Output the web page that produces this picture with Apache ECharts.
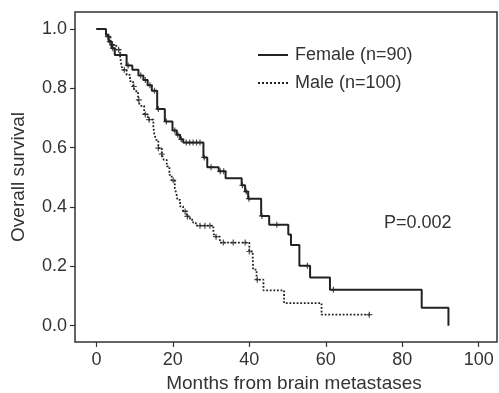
<!DOCTYPE html>
<html>
<head>
<meta charset="utf-8">
<script src="https://cdn.jsdelivr.net/npm/echarts@6/dist/echarts.min.js"></script>
<style>
html, body { margin: 0; padding: 0; background: #fff; }
#chart { width: 499px; height: 393px; }
</style>
</head>
<body>
<div id="chart"></div>
<script>
// tick labels
var xTicks = [0, 20, 40, 60, 80, 100];
var yTicks = [0, 0.2, 0.4, 0.6, 0.8, 1.0];

// Kaplan-Meier steps (time in months, survival after the drop)
var femaleTimes = [0, 2.5, 3.2, 4.0, 4.8, 7.9, 9.4, 11.0, 12.3, 13.4, 14.5, 15.9, 17.9, 19.9, 21.0, 21.9, 22.7, 28.0, 29.0, 32.0, 33.8, 38.0, 38.9, 39.7, 43.1, 45.2, 50.2, 50.9, 53.1, 55.9, 61.1, 85.1, 92.1];
var femaleSurv = [1.0, 0.98, 0.957, 0.935, 0.912, 0.877, 0.862, 0.843, 0.828, 0.81, 0.792, 0.73, 0.688, 0.658, 0.643, 0.628, 0.617, 0.567, 0.534, 0.52, 0.497, 0.473, 0.452, 0.428, 0.37, 0.34, 0.307, 0.272, 0.202, 0.162, 0.121, 0.06, 0.0];

var maleTimes = [0, 2.5, 3.7, 5.2, 6.2, 6.6, 7.0, 7.9, 8.8, 9.6, 10.1, 10.9, 11.4, 12.5, 13.5, 14.9, 15.1, 15.6, 16.2, 17.1, 17.6, 18.4, 19.1, 19.7, 20.5, 21.0, 21.2, 21.9, 22.7, 23.6, 24.5, 25.3, 26.0, 30.6, 31.0, 32.3, 40.0, 40.9, 41.0, 41.9, 43.7, 49.1, 58.9, 71.4];
var maleSurv = [1.0, 0.974, 0.946, 0.93, 0.907, 0.873, 0.862, 0.845, 0.824, 0.806, 0.79, 0.761, 0.741, 0.712, 0.694, 0.672, 0.649, 0.626, 0.598, 0.578, 0.559, 0.537, 0.508, 0.49, 0.463, 0.44, 0.424, 0.402, 0.385, 0.368, 0.357, 0.347, 0.337, 0.312, 0.30, 0.28, 0.25, 0.228, 0.189, 0.155, 0.119, 0.076, 0.037, 0.037];

// censored cases
var femaleCensorTimes = [3.5, 4.3, 8.3, 11.6, 12.8, 14.0, 15.2, 16.2, 18.3, 20.5, 21.3, 22.2, 23.5, 24.4, 25.3, 26.2, 27.1, 28.2, 30.0, 32.4, 33.3, 38.2, 39.2, 39.9, 43.3, 47.2, 55.2, 62.0];
var femaleCensorSurv = [0.957, 0.935, 0.877, 0.843, 0.828, 0.81, 0.792, 0.73, 0.688, 0.658, 0.643, 0.628, 0.617, 0.617, 0.617, 0.617, 0.617, 0.567, 0.534, 0.52, 0.52, 0.473, 0.452, 0.428, 0.37, 0.34, 0.202, 0.121];

var maleCensorTimes = [3.0, 4.2, 5.8, 7.3, 9.8, 11.1, 12.8, 13.8, 16.2, 17.1, 20.1, 23.2, 23.8, 27.1, 28.4, 29.7, 31.3, 33.2, 35.8, 38.9, 40.0, 42.1, 71.4];
var maleCensorSurv = [0.974, 0.946, 0.93, 0.862, 0.806, 0.761, 0.712, 0.694, 0.598, 0.578, 0.49, 0.385, 0.368, 0.337, 0.337, 0.337, 0.30, 0.28, 0.28, 0.28, 0.25, 0.155, 0.037];

var pValue = 'P=0.002';

function pairs(xs, ys) {
    return xs.map(function (x, i) { return [x, ys[i]]; });
}

var ink = '#222';
var txt = '#333';
var font = 'Arial, "Liberation Sans", Helvetica, sans-serif';
var plus = 'path://M2,0H3V2H5V3H3V5H2V3H0V2H2Z';

var chart = echarts.init(document.getElementById('chart'));
chart.setOption({
    animation: false,
    backgroundColor: '#fff',
    textStyle: { fontFamily: font },
    grid: {
        left: 75, right: 2, top: 12, bottom: 51,
        show: true, borderColor: '#333', borderWidth: 1.5,
        containLabel: false,
        outerBoundsMode: 'none'
    },
    legend: {
        orient: 'vertical',
        left: 257, top: 46, padding: 0,
        itemWidth: 30, itemHeight: 14, itemGap: 10,
        itemStyle: { color: 'transparent', borderWidth: 0, opacity: 0 },
        data: ['Female (n=90)', 'Male (n=100)'],
        textStyle: { color: txt, fontSize: 18, fontFamily: font, padding: [0, 0, 0, 2] }
    },
    xAxis: {
        type: 'value',
        min: -5.6, max: 104.8,
        name: 'Months from brain metastases',
        nameLocation: 'middle',
        nameGap: 32,
        nameTextStyle: { color: txt, fontSize: 19, fontFamily: font, padding: [0, 0, 0, 16] },
        axisLine: { show: false, onZero: false },
        axisTick: { show: true, length: 5, customValues: xTicks, lineStyle: { color: '#333', width: 1.2 } },
        axisLabel: { customValues: xTicks, color: txt, fontSize: 18, margin: 9, fontFamily: font },
        splitLine: { show: false }
    },
    yAxis: {
        type: 'value',
        min: -0.055, max: 1.057,
        name: 'Overall survival',
        nameLocation: 'middle',
        nameRotate: 90,
        nameGap: 47,
        nameTextStyle: { color: txt, fontSize: 19, fontFamily: font },
        axisLine: { show: false, onZero: false },
        axisTick: { show: true, length: 5, customValues: yTicks, lineStyle: { color: '#333', width: 1.2 } },
        axisLabel: {
            customValues: yTicks, color: txt, fontSize: 18, margin: 8, fontFamily: font,
            formatter: function (v) { return v.toFixed(1); }
        },
        splitLine: { show: false }
    },
    graphic: [{
        type: 'text', left: 384, top: 214,
        style: { text: pValue, fill: txt, font: '18px ' + font }
    }],
    series: [
        {
            name: 'Male (n=100)',
            type: 'line', step: 'end', symbol: 'none',
            lineStyle: { color: ink, width: 1.8, type: 'dotted' },
            itemStyle: { color: ink },
            data: pairs(maleTimes, maleSurv)
        },
        {
            name: 'Female (n=90)',
            type: 'line', step: 'end', symbol: 'none',
            lineStyle: { color: ink, width: 2 },
            itemStyle: { color: ink },
            data: pairs(femaleTimes, femaleSurv)
        },
        {
            name: 'Male censored',
            type: 'scatter', symbol: plus, symbolSize: [6, 6],
            itemStyle: { color: ink },
            data: pairs(maleCensorTimes, maleCensorSurv)
        },
        {
            name: 'Female censored',
            type: 'scatter', symbol: plus, symbolSize: [6, 6],
            itemStyle: { color: ink },
            data: pairs(femaleCensorTimes, femaleCensorSurv)
        }
    ]
});
</script>
</body>
</html>
